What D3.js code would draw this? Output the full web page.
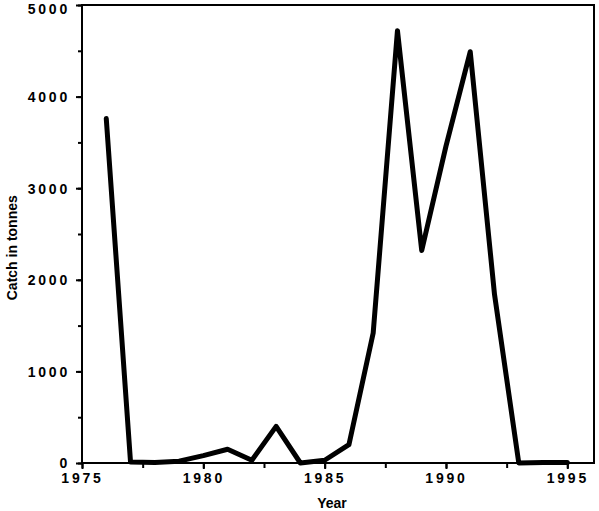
<!DOCTYPE html>
<html>
<head>
<meta charset="utf-8">
<script src="https://cdn.jsdelivr.net/npm/d3@7"></script>
<style>
  body { margin: 0; background: #fff; }
  .axis text { font-family: "Liberation Sans", Arial, sans-serif; font-weight: bold; font-size: 14px; letter-spacing: 2.8px; fill: #000; }
  .axis path, .axis line { stroke: #000; stroke-width: 2; }
  .label { font-family: "Liberation Sans", Arial, sans-serif; font-weight: bold; font-size: 14px; fill: #000; }
</style>
</head>
<body>
<script>
"use strict";

var years = [1976, 1977, 1978, 1979, 1980, 1981, 1982, 1983, 1984, 1985, 1986, 1987, 1988, 1989, 1990, 1991, 1992, 1993, 1994, 1995];
var catches = [3760, 10, 5, 20, 80, 150, 30, 400, 0, 30, 200, 1420, 4720, 2320, 3460, 4490, 1840, 0, 5, 5];
var xTicks = [1975, 1980, 1985, 1990, 1995];
var yTicks = [0, 1000, 2000, 3000, 4000, 5000];

var margin = { top: 5, right: 5, bottom: 48, left: 82 };
var w = 599 - margin.left - margin.right,
    h = 511 - margin.top - margin.bottom;

var svg = d3.select("body").append("svg").attr("width", 599).attr("height", 511)
  .append("g").attr("transform", "translate(" + margin.left + "," + margin.top + ")");

var x = d3.scaleLinear().domain([1975, 1996.1]).range([0, w]);
var y = d3.scaleLinear().domain([0, 5000]).range([h, 0]);

// frame
svg.append("rect").attr("width", w).attr("height", h)
  .attr("fill", "none").attr("stroke", "#000").attr("stroke-width", 2);

// minor ticks
svg.append("g").attr("class", "axis").attr("transform", "translate(0," + h + ")")
  .call(d3.axisBottom(x).tickValues(d3.range(1975, 1996, 2.5)).tickSize(5).tickFormat(""))
  .select(".domain").remove();
svg.append("g").attr("class", "axis")
  .call(d3.axisLeft(y).tickValues(d3.range(0, 5001, 500)).tickSize(4).tickFormat(""))
  .select(".domain").remove();

// labelled axes
var xa = svg.append("g").attr("class", "axis").attr("transform", "translate(0," + h + ")")
  .call(d3.axisBottom(x).tickValues(xTicks).tickSize(6).tickPadding(4).tickFormat(d3.format("d")));
xa.select(".domain").remove();

var ya = svg.append("g").attr("class", "axis")
  .call(d3.axisLeft(y).tickValues(yTicks).tickSize(6).tickPadding(6).tickFormat(d3.format("d")));
ya.select(".domain").remove();
ya.selectAll("text").attr("dy", function (d) { return d === 5000 ? "0.6em" : "0.35em"; });

// line
var line = d3.line().x(function (d, i) { return x(years[i]); }).y(function (d) { return y(d); });
svg.append("path").datum(catches).attr("d", line)
  .attr("fill", "none").attr("stroke", "#000").attr("stroke-width", 5)
  .attr("stroke-linejoin", "round").attr("stroke-linecap", "round");

// axis titles
svg.append("text").attr("class", "label").attr("x", x(1985.3)).attr("y", h + 45)
  .attr("text-anchor", "middle").text("Year");
svg.append("text").attr("class", "label")
  .attr("transform", "translate(" + (-margin.left + 17) + "," + y(2350) + ") rotate(-90)")
  .attr("text-anchor", "middle").text("Catch in tonnes");
</script>
</body>
</html>
